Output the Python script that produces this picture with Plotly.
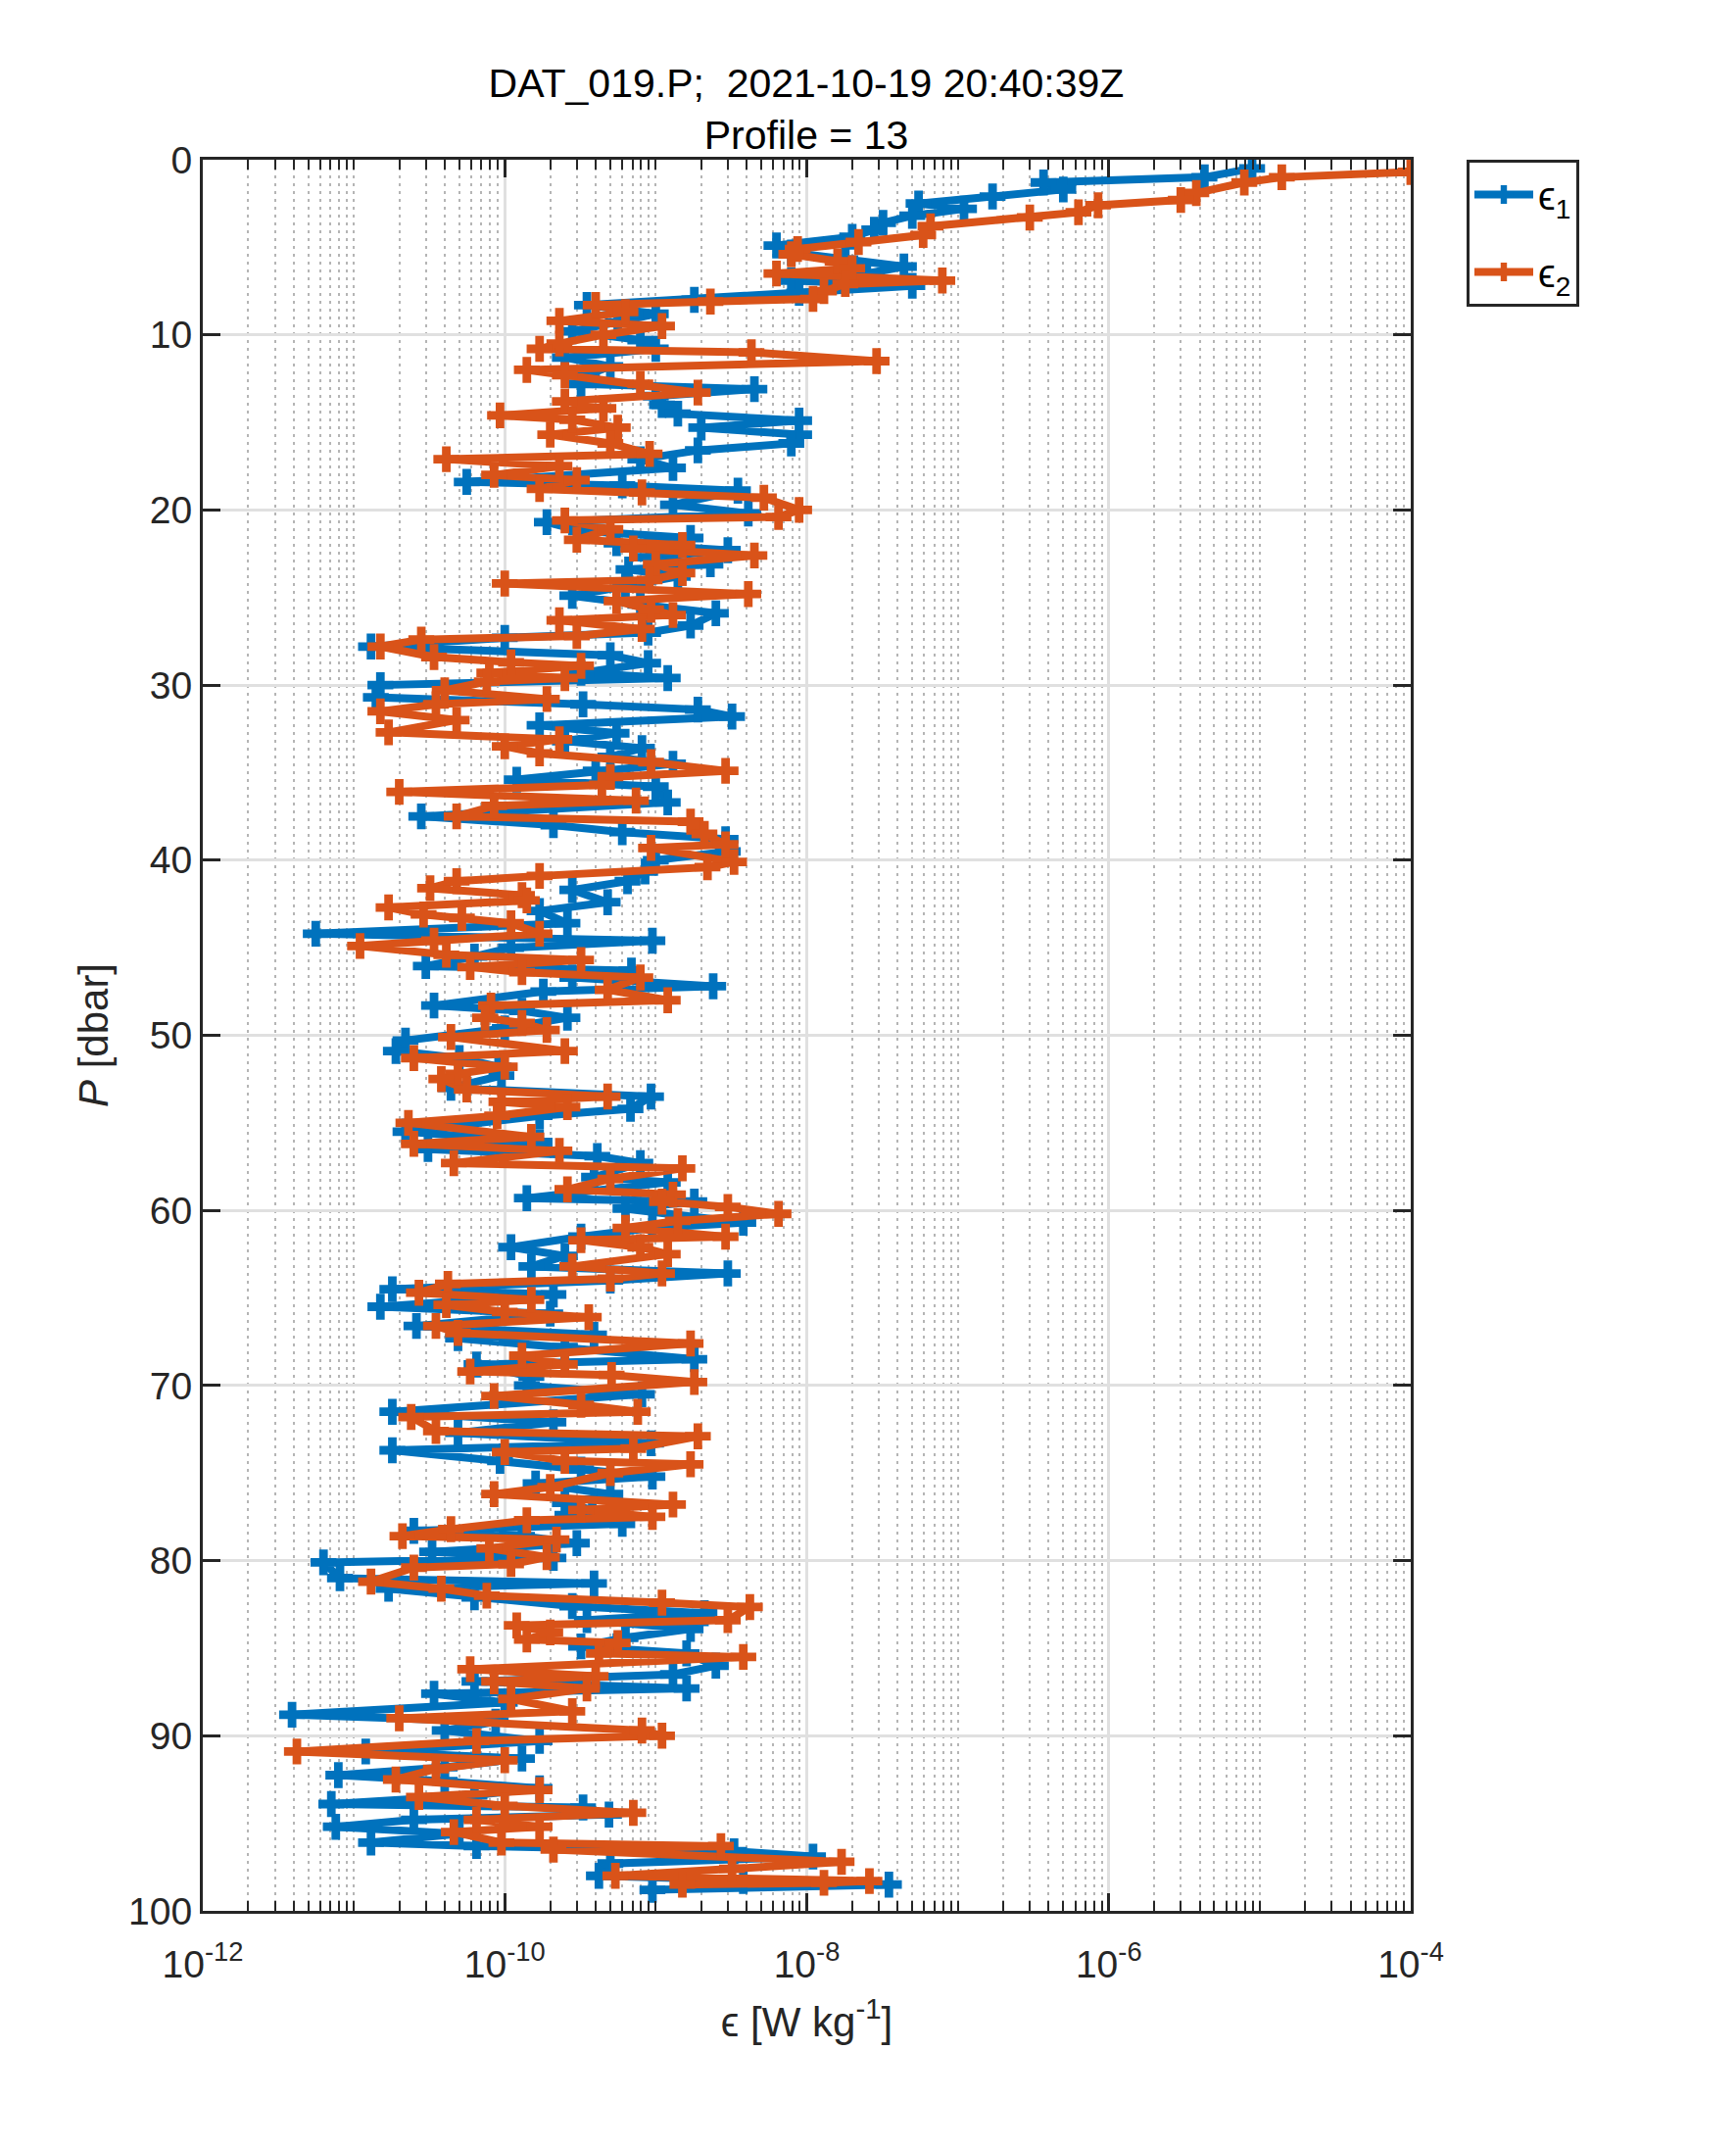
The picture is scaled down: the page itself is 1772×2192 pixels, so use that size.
import plotly.graph_objects as go

# ---- data ----
# epsilon_1 (shear probe 1): pressure [dbar] and dissipation [W/kg]
p1 = [0.5, 1.0, 1.3, 1.7, 2.1, 2.5, 2.8, 3.2, 3.6, 4.0,
      4.4, 4.9, 5.3, 5.7, 6.1, 6.5, 6.9, 7.2, 7.6, 8.0,
      8.3, 8.8, 9.3, 9.8, 10.3, 10.8, 11.3, 11.8, 12.3, 12.8,
      13.1, 13.5, 14.0, 14.5, 14.9, 15.3, 15.7, 16.2, 16.6, 17.1,
      17.6, 18.4, 18.6, 18.9, 19.7, 20.2, 20.7, 21.2, 21.6, 21.9,
      22.3, 22.7, 23.1, 23.4, 23.8, 24.3, 24.9, 25.4, 25.9, 26.6,
      27.0, 27.3, 27.8, 28.3, 28.75, 29.3, 29.6, 30.0, 30.7, 31.1,
      31.4, 31.8, 32.3, 32.75, 33.2, 33.6, 34.1, 34.5, 34.9, 35.4,
      35.8, 36.7, 37.5, 38.0, 38.4, 38.8, 39.5, 40.0, 40.65, 41.2,
      41.7, 42.4, 42.9, 43.6, 44.2, 44.6, 45.0, 45.5, 46.05, 46.3,
      46.7, 47.2, 47.5, 48.3, 48.6, 49.0, 49.6, 50.3, 50.9, 51.3,
      51.8, 52.3, 53.0, 53.5, 54.2, 54.6, 55.5, 56.1, 56.5, 56.9,
      57.3, 58.1, 58.4, 59.3, 59.5, 59.9, 60.7, 61.0, 61.5, 62.1,
      62.6, 63.2, 63.6, 64.0, 64.5, 64.8, 65.5, 65.9, 66.6, 67.1,
      67.3, 67.8, 68.5, 68.8, 69.5, 70.0, 70.5, 71.5, 72.1, 72.7,
      73.3, 73.7, 74.3, 74.8, 75.2, 75.6, 76.2, 76.7, 77.1, 77.4,
      77.9, 78.3, 78.6, 79.0, 79.5, 79.85, 80.1, 81.0, 81.3, 81.6,
      82.1, 82.6, 83.0, 83.4, 83.9, 84.4, 84.9, 85.3, 86.0, 86.5,
      86.9, 87.3, 87.6, 88.1, 88.8, 89.2, 89.7, 90.3, 90.9, 91.3,
      91.8, 92.25, 92.6, 93.0, 93.4, 93.9, 94.1, 94.5, 94.8, 95.2,
      95.6, 96.1, 96.3, 96.6, 96.9, 97.3, 98.0, 98.3, 98.5, 98.8]
eps1 = [8.9e-6, 4.3e-6, 3.7e-7, 5.0e-7, 1.7e-7, 5.5e-8, 1.1e-7, 5.0e-8, 3.2e-8, 2.8e-8,
        2.0e-8, 6.3e-9, 7.9e-9, 1.8e-8, 4.4e-8, 2.5e-8, 7.9e-9, 5.0e-8, 8.9e-9, 1.8e-9,
        3.5e-10, 1.0e-9, 5.6e-10, 2.8e-10, 7.9e-10, 1.0e-9, 2.5e-10, 5.0e-10, 3.5e-10, 3.2e-10,
        4.5e-9, 1.0e-9, 1.1e-9, 1.4e-9, 8.9e-9, 2.0e-9, 8.9e-9, 7.9e-9, 1.9e-9, 7.9e-10,
        1.3e-9, 5.6e-11, 6.0e-10, 3.5e-9, 1.3e-9, 4.1e-9, 1.9e-10, 3.2e-10, 1.7e-9, 5.5e-10,
        3.0e-9, 9.1e-10, 2.3e-9, 6.6e-10, 1.4e-9, 6.3e-10, 2.8e-10, 7.9e-10, 2.5e-9, 1.7e-9,
        8.9e-10, 1.0e-10, 1.3e-11, 5.0e-10, 8.9e-10, 3.2e-10, 1.2e-9, 1.5e-11, 1.4e-11, 3.3e-10,
        1.9e-9, 3.2e-9, 1.7e-10, 5.5e-10, 2.5e-10, 8.1e-10, 5.0e-10, 1.3e-9, 4.0e-10, 1.2e-10,
        1.0e-9, 1.2e-9, 2.8e-11, 2.1e-10, 6.0e-10, 2.9e-9, 3.0e-9, 1.0e-9, 8.5e-10, 6.5e-10,
        2.8e-10, 4.8e-10, 1.7e-10, 2.6e-10, 5.6e-12, 9.5e-10, 1.1e-10, 6.3e-11, 3.0e-11, 6.9e-10,
        2.8e-10, 2.4e-9, 1.8e-10, 3.4e-11, 1.3e-10, 2.6e-10, 1.0e-10, 2.2e-11, 1.9e-11, 5.0e-11,
        9.1e-11, 9.5e-11, 4.4e-11, 9.3e-10, 6.8e-10, 1.7e-10, 2.2e-11, 1.7e-10, 3.1e-11, 4.1e-10,
        7.9e-10, 3.9e-10, 1.2e-9, 1.4e-10, 1.8e-9, 6.3e-10, 3.8e-9, 9.5e-10, 3.2e-10, 1.1e-10,
        2.5e-10, 1.5e-10, 3.0e-9, 5.0e-10, 1.8e-11, 2.1e-10, 1.5e-11, 2.0e-10, 2.6e-11, 3.9e-10,
        4.9e-11, 2.5e-10, 1.8e-9, 6.5e-11, 1.5e-10, 1.4e-10, 8.1e-10, 1.8e-11, 2.1e-10, 4.9e-11,
        9.3e-10, 1.8e-11, 9.3e-11, 3.2e-10, 9.5e-10, 1.6e-10, 5.0e-10, 2.5e-10, 3.8e-10, 2.6e-10,
        6.0e-10, 2.5e-11, 1.3e-10, 3.0e-10, 3.3e-11, 2.1e-10, 6.3e-12, 8.1e-12, 3.9e-10, 1.7e-11,
        6.3e-11, 2.8e-10, 2.1e-9, 3.5e-10, 1.7e-9, 6.3e-10, 3.2e-10, 1.6e-9, 2.5e-9, 1.3e-9,
        6.3e-11, 1.6e-9, 3.4e-11, 1.0e-10, 3.9e-12, 8.7e-11, 4.0e-11, 1.7e-10, 1.2e-11, 1.3e-10,
        4.0e-11, 7.9e-12, 4.0e-11, 1.7e-10, 6.3e-11, 7.1e-12, 3.3e-10, 4.9e-10, 2.5e-11, 7.6e-12,
        5.0e-11, 1.3e-11, 6.5e-11, 3.3e-9, 1.1e-8, 5.0e-10, 4.2e-10, 3.8e-9, 3.5e-8, 9.5e-10]

# epsilon_2 (shear probe 2)
p2 = [0.7, 1.0, 1.3, 1.9, 2.3, 2.6, 3.0, 3.3, 3.8, 4.3,
      4.7, 5.1, 5.4, 5.8, 6.2, 6.5, 6.9, 7.1, 7.5, 7.95,
      8.1, 8.3, 8.7, 9.2, 9.5, 10.0, 10.5, 10.8, 11.0, 11.5,
      12.0, 12.3, 12.8, 13.3, 13.8, 14.2, 14.6, 14.85, 15.3, 15.7,
      16.2, 16.8, 17.1, 17.5, 18.0, 18.3, 18.8, 19.0, 19.3, 20.0,
      20.4, 20.6, 21.1, 21.7, 22.0, 22.2, 22.6, 23.1, 23.6, 24.0,
      24.2, 24.8, 25.2, 25.7, 26.0, 26.3, 26.8, 27.2, 27.4, 27.8,
      28.4, 28.7, 28.9, 29.3, 29.6, 29.8, 30.3, 30.8, 31.1, 31.5,
      32.0, 32.7, 33.1, 33.5, 33.9, 34.4, 34.9, 35.25, 35.7, 36.1,
      36.6, 36.9, 37.5, 37.8, 38.5, 39.1, 39.3, 40.1, 40.4, 40.9,
      41.2, 41.6, 42.0, 42.3, 42.7, 43.1, 43.3, 43.6, 44.2, 44.6,
      44.9, 45.4, 45.7, 46.1, 46.4, 46.7, 47.4, 48.0, 48.3, 49.0,
      49.3, 49.7, 50.1, 50.9, 51.3, 51.8, 52.2, 52.5, 53.1, 53.5,
      53.8, 54.1, 54.6, 55.0, 55.8, 56.2, 56.6, 57.3, 57.6, 58.2,
      58.8, 59.1, 59.5, 59.8, 60.2, 60.6, 61.0, 61.5, 61.7, 62.1,
      62.5, 63.2, 63.6, 63.9, 64.2, 64.7, 65.1, 65.4, 65.8, 66.1,
      66.6, 67.0, 67.6, 68.3, 68.8, 69.2, 69.4, 69.8, 70.6, 71.1,
      71.5, 71.8, 72.6, 72.9, 73.6, 73.8, 74.3, 74.5, 75.0, 75.8,
      76.2, 76.8, 77.1, 77.5, 77.7, 78.2, 78.6, 78.8, 79.3, 79.8,
      80.2, 80.4, 81.2, 81.6, 82.0, 82.4, 82.65, 83.4, 83.7, 84.1,
      84.5, 84.7, 85.3, 85.5, 86.2, 86.6, 86.9, 87.3, 87.9, 88.6,
      89.0, 89.7, 90.0, 90.3, 90.9, 91.4, 91.9, 92.5, 93.1, 93.5,
      94.0, 94.4, 94.8, 95.2, 95.5, 96.1, 96.3, 96.5, 97.2, 97.6,
      98.0, 98.3, 98.4, 98.5]
eps2 = [1.0e-4, 1.4e-5, 7.9e-6, 3.8e-6, 3.0e-6, 8.5e-7, 6.3e-7, 3.0e-7, 6.6e-8, 5.9e-8,
        2.2e-8, 8.7e-9, 7.9e-9, 1.6e-8, 2.0e-8, 6.3e-9, 7.9e-8, 1.8e-8, 1.3e-8, 1.1e-8,
        2.3e-9, 4.0e-10, 6.3e-10, 2.3e-10, 1.1e-9, 4.5e-10, 2.3e-10, 1.7e-10, 4.3e-9, 2.9e-8,
        1.4e-10, 2.5e-10, 7.9e-10, 1.9e-9, 2.5e-10, 4.5e-10, 9.3e-11, 2.8e-10, 5.6e-10, 2.0e-10,
        5.0e-10, 9.1e-10, 4.1e-11, 2.3e-10, 8.5e-11, 3.0e-10, 1.7e-10, 8.1e-10, 5.2e-9, 8.9e-9,
        6.5e-9, 2.5e-10, 5.0e-10, 3.0e-10, 1.5e-9, 7.1e-10, 4.5e-9, 1.0e-9, 1.5e-9, 9.1e-10,
        1.0e-10, 4.1e-9, 5.5e-10, 9.3e-10, 1.3e-9, 2.3e-10, 8.1e-10, 3.0e-10, 2.8e-11, 1.5e-11,
        3.4e-11, 1.1e-10, 3.2e-10, 7.9e-11, 2.5e-10, 7.6e-11, 4.0e-11, 1.9e-10, 3.5e-11, 1.5e-11,
        4.8e-11, 1.7e-11, 2.3e-10, 1.0e-10, 1.7e-10, 9.3e-10, 2.9e-9, 5.0e-10, 4.4e-10, 2.0e-11,
        7.4e-10, 8.5e-11, 4.8e-11, 1.7e-9, 2.1e-9, 2.9e-9, 9.3e-10, 3.3e-9, 2.2e-9, 1.7e-10,
        4.8e-11, 3.2e-11, 1.3e-10, 1.4e-10, 1.7e-11, 2.9e-11, 5.2e-11, 1.1e-10, 1.7e-10, 3.4e-11,
        1.1e-11, 4.1e-11, 3.2e-10, 5.9e-11, 1.3e-10, 7.9e-10, 4.8e-10, 1.2e-9, 8.1e-11, 7.4e-11,
        1.3e-10, 1.9e-10, 4.4e-11, 2.5e-10, 2.5e-11, 1.0e-10, 4.9e-11, 3.8e-11, 5.6e-11, 4.8e-10,
        9.5e-11, 2.6e-10, 8.9e-11, 2.3e-11, 1.5e-10, 2.5e-11, 2.3e-10, 4.6e-11, 1.5e-9, 5.0e-10,
        2.6e-10, 1.3e-9, 1.1e-9, 3.0e-9, 6.5e-9, 1.4e-9, 6.3e-10, 2.9e-9, 3.2e-10, 7.9e-10,
        1.2e-9, 2.8e-10, 1.1e-9, 5.0e-10, 4.2e-11, 2.7e-11, 1.5e-10, 4.1e-11, 1.0e-10, 3.6e-10,
        3.5e-11, 4.9e-11, 1.7e-9, 1.3e-10, 2.5e-10, 5.9e-11, 5.1e-10, 1.8e-9, 8.5e-11, 3.2e-10,
        7.6e-10, 2.4e-11, 3.5e-11, 1.9e-9, 7.1e-10, 1.0e-10, 2.5e-10, 1.7e-9, 5.0e-10, 2.0e-10,
        8.5e-11, 1.3e-9, 3.2e-10, 9.5e-10, 1.4e-10, 4.4e-11, 2.1e-11, 2.2e-10, 7.9e-11, 1.9e-10,
        1.1e-10, 2.5e-11, 1.3e-11, 3.8e-11, 7.6e-11, 1.1e-9, 4.2e-9, 3.0e-9, 1.2e-10, 2.0e-10,
        1.4e-10, 5.6e-10, 4.2e-10, 3.8e-9, 5.9e-11, 4.0e-10, 8.5e-11, 3.5e-10, 1.1e-10, 2.8e-10,
        2.0e-11, 8.1e-10, 1.1e-9, 6.5e-11, 4.2e-12, 1.0e-10, 3.5e-11, 1.9e-11, 1.7e-10, 2.7e-11,
        1.0e-10, 7.1e-10, 6.5e-11, 1.7e-10, 4.6e-11, 9.5e-11, 2.7e-9, 2.1e-10, 1.7e-8, 3.2e-9,
        5.4e-10, 2.6e-8, 1.3e-8, 1.5e-9]

x_tick_vals = [1e-12, 1e-10, 1e-8, 1e-6, 1e-4]
x_tick_text = ["10<sup>-12</sup>", "10<sup>-10</sup>", "10<sup>-8</sup>",
               "10<sup>-6</sup>", "10<sup>-4</sup>"]
y_tick_vals = [0, 10, 20, 30, 40, 50, 60, 70, 80, 90, 100]

series_names = ["ϵ<sub>1</sub>", "ϵ<sub>2</sub>"]
series_colors = ["#0072BD", "#D95319"]

assert len(p1) == len(eps1) and len(p2) == len(eps2)

# minor tick positions of the log axis (2..9 x 10^n, plus the odd decades)
minor_vals = []
for n in range(-12, -4):
    for m in range(1, 10):
        if m == 1 and n % 2 == 0:
            continue
        minor_vals.append(float(f"{m}e{n}"))

AX = "#262626"
FONT = "Liberation Sans, Arial, Helvetica, sans-serif"

fig = go.Figure()
for i, (xs, ys, name, col) in enumerate([(eps1, p1, series_names[0], series_colors[0]),
                                         (eps2, p2, series_names[1], series_colors[1])]):
    fig.add_trace(go.Scatter(
        x=xs, y=ys, name=name, mode="lines+markers", legendgroup=f"g{i}",
        line=dict(color=col, width=8),
        marker=dict(symbol="cross", size=22, color=col, line=dict(width=0)),
    ))

# the page body adds an 8 px offset; figure is sized to fit inside it
OFF = 8
W, H = 1772 - 2 * OFF, 2192 - 2 * OFF
L, R, T, B = 207 - OFF, 1440 - OFF, 163 - OFF, 1950 - OFF

fig.update_layout(
    width=W, height=H,
    margin=dict(l=L, r=W - R, t=T, b=H - B, pad=0),
    paper_bgcolor="white", plot_bgcolor="white",
    font=dict(family=FONT, size=39, color=AX),
    title=dict(
        text="DAT_019.P;  2021-10-19 20:40:39Z<br>Profile = 13",
        x=(823 - OFF) / W, xref="container", xanchor="center",
        y=1 - 91 / H, yref="container", yanchor="middle",
        font=dict(family=FONT, size=41, color="black"),
    ),
    showlegend=True,
    legend=dict(
        x=(1497 - 207) / (1440 - 207), y=1, xanchor="left", yanchor="top",
        bgcolor="white", bordercolor=AX, borderwidth=3,
        font=dict(family=FONT, size=40, color="black"),
        itemwidth=60, tracegroupgap=24,
    ),
)

fig.update_xaxes(
    type="log", range=[-12, -4], automargin=False,
    tickmode="array", tickvals=x_tick_vals, ticktext=x_tick_text,
    ticks="inside", ticklen=18, tickwidth=3, tickcolor=AX,
    showline=True, linewidth=3, linecolor=AX, mirror="allticks",
    showgrid=True, gridcolor="#e0e0e0", gridwidth=3, zeroline=False,
    tickfont=dict(size=39, color=AX), ticklabelstandoff=18,
    minor=dict(tickmode="array", tickvals=minor_vals, ticks="inside",
               ticklen=10, tickwidth=2, tickcolor=AX,
               showgrid=True, gridcolor="#b5b5b5", gridwidth=2, griddash="3px,5px"),
    title=dict(text="ϵ [W kg<sup>-1</sup>]", standoff=24,
               font=dict(size=42, color=AX)),
)
fig.update_yaxes(
    range=[100, 0], automargin=False,
    tickmode="array", tickvals=y_tick_vals,
    ticks="inside", ticklen=18, tickwidth=3, tickcolor=AX,
    showline=True, linewidth=3, linecolor=AX, mirror="allticks",
    showgrid=True, gridcolor="#e0e0e0", gridwidth=3, zeroline=False,
    tickfont=dict(size=39, color=AX),
    title=dict(text="<i>P</i> [dbar]", standoff=8,
               font=dict(size=42, color=AX)),
)

fig.write_html("out.html")
